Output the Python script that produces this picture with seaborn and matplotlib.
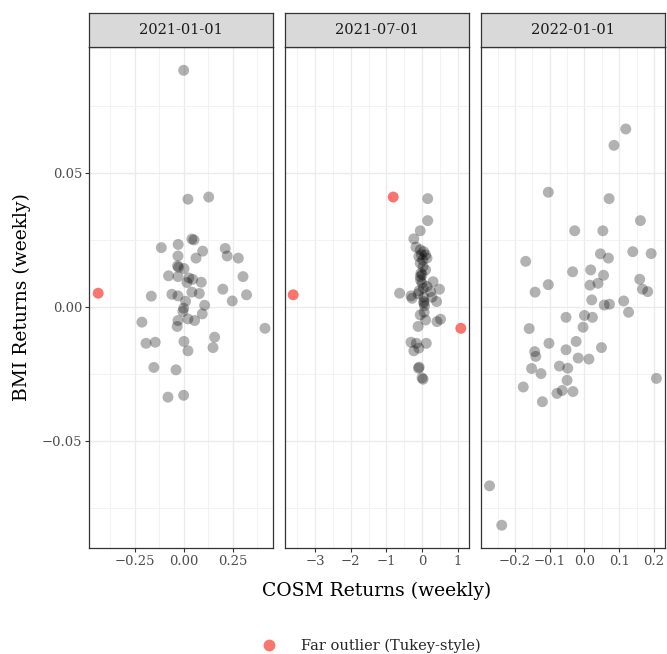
import matplotlib
matplotlib.use("Agg")
import matplotlib.pyplot as plt
from matplotlib.lines import Line2D
from matplotlib.ticker import FixedLocator
import seaborn as sns
import pandas as pd

# ---------------- data ----------------
periods = ["2021-01-01", "2021-07-01", "2022-01-01"]

p1_x = [0.000, 0.022, 0.128, 0.042, 0.053, -0.114, -0.028, 0.097, 0.212, 0.222, 0.279, -0.029,
        0.063, -0.031, -0.026, 0.002, -0.077, -0.029, 0.027, 0.046, 0.090, 0.017, 0.303, 0.200,
        -0.165, -0.060, -0.029, 0.042, 0.080, 0.010, 0.248, 0.321, 0.107, 0.000, -0.004, 0.095,
        -0.029, -0.033, 0.022, 0.056, -0.213, 0.415, 0.158, 0.150, -0.192, -0.145, 0.0015, 0.022,
        -0.152, -0.039, -0.080, 0.000]
p1_y = [0.0883, 0.0402, 0.0410, 0.0253, 0.0250, 0.0221, 0.0233, 0.0208, 0.0218, 0.0190, 0.0182, 0.0190,
        0.0182, 0.0153, 0.0148, 0.0143, 0.0116, 0.0113, 0.0108, 0.0103, 0.0092, 0.0091, 0.0113, 0.0066,
        0.0040, 0.0047, 0.0041, 0.0055, 0.0050, 0.0021, 0.0022, 0.0045, 0.0006, -0.0005, -0.0017, -0.0026,
        -0.0051, -0.0073, -0.0045, -0.0051, -0.0057, -0.0080, -0.0113, -0.0152, -0.0136, -0.0132, -0.0129, -0.0164,
        -0.0226, -0.0235, -0.0337, -0.0330]
p1_out_x = [-0.436]
p1_out_y = [0.0051]

p2_x = [0.16, 0.16, -0.05, -0.23, -0.17, -0.05, 0.05, 0.10, -0.09, 0.14, -0.05, 0.03,
        0.10, -0.03, -0.05, 0.00, 0.31, 0.14, 0.49, 0.24, -0.11, -0.31, -0.63, 0.05,
        0.28, 0.41, 0.05, -0.28, 0.05, 0.07, -0.05, 0.10, -0.11, 0.42, 0.52, -0.31,
        -0.16, 0.12, -0.23, -0.09, -0.10, -0.08, 0.03, 0.00, -0.02, 0.02, 0.00, -0.08,
        0.04, -0.04, 0.06]
p2_y = [0.0404, 0.0322, 0.0284, 0.0254, 0.0223, 0.0213, 0.0206, 0.0194, 0.0188, 0.0182, 0.0163, 0.0150,
        0.0138, 0.0126, 0.0113, 0.0088, 0.0094, 0.0076, 0.0066, 0.0057, 0.0049, 0.0041, 0.0051, 0.0036,
        0.0036, 0.0020, 0.0014, 0.0032, 0.0020, 0.0004, -0.0030, -0.0049, -0.0073, -0.0055, -0.0046, -0.0132,
        -0.0136, -0.0136, -0.0164, -0.0154, -0.0229, -0.0225, -0.0270, -0.0265, 0.0195, 0.0175, 0.0120, 0.0060,
        0.0070, 0.0100, -0.0020]
p2_out_x = [-3.62, -0.81, 1.09]
p2_out_y = [0.0045, 0.0410, -0.0080]

p3_x = [0.119, 0.085, -0.104, 0.071, 0.161, -0.028, 0.053, 0.046, 0.069, 0.139, 0.192, -0.169,
        -0.034, 0.018, 0.055, 0.016, 0.039, 0.159, 0.167, 0.182, -0.104, -0.142, 0.021, 0.057,
        0.072, 0.113, 0.127, -0.053, 0.000, 0.023, -0.004, -0.159, -0.102, -0.024, -0.053, 0.049,
        -0.143, -0.140, -0.018, 0.013, -0.152, -0.125, -0.072, -0.048, -0.050, -0.176, -0.079, -0.064,
        -0.033, -0.121, 0.207, -0.273, -0.238]
p3_y = [0.0664, 0.0603, 0.0428, 0.0404, 0.0322, 0.0284, 0.0284, 0.0198, 0.0182, 0.0206, 0.0199, 0.0170,
        0.0131, 0.0138, 0.0118, 0.0081, 0.0088, 0.0103, 0.0066, 0.0057, 0.0083, 0.0055, 0.0026, 0.0007,
        0.0010, 0.0022, -0.0020, -0.0039, -0.0032, -0.0039, -0.0076, -0.0081, -0.0136, -0.0129, -0.0160, -0.0152,
        -0.0167, -0.0185, -0.0191, -0.0195, -0.0230, -0.0249, -0.0221, -0.0229, -0.0274, -0.0299, -0.0323, -0.0312,
        -0.0316, -0.0354, -0.0267, -0.0668, -0.0815]
p3_out_x = []
p3_out_y = []

x_ticks = [[-0.25, 0.0, 0.25], [-3, -2, -1, 0, 1], [-0.2, -0.1, 0.0, 0.1, 0.2]]
x_tick_labels = [["\u22120.25", "0.00", "0.25"],
                 ["\u22123", "\u22122", "\u22121", "0", "1"],
                 ["\u22120.2", "\u22120.1", "0.0", "0.1", "0.2"]]
y_ticks = [-0.05, 0.0, 0.05]
y_tick_labels = ["\u22120.05", "0.00", "0.05"]
legend_label = "Far outlier (Tukey-style)"
x_title = "COSM Returns (weekly)"
y_title = "BMI Returns (weekly)"

# ---------------- frames ----------------
rows = []
for per, xs, ys, oxs, oys in [(periods[0], p1_x, p1_y, p1_out_x, p1_out_y),
                             (periods[1], p2_x, p2_y, p2_out_x, p2_out_y),
                             (periods[2], p3_x, p3_y, p3_out_x, p3_out_y)]:
    for a, b in zip(xs, ys):
        rows.append(dict(period=per, cosm=a, bmi=b, outlier=False))
    for a, b in zip(oxs, oys):
        rows.append(dict(period=per, cosm=a, bmi=b, outlier=True))
df = pd.DataFrame(rows)

# ---------------- style ----------------
sns.set_theme(style="white")
plt.rcParams["font.family"] = ["DejaVu Serif", "DejaVu Sans"]

W, H = 667, 654
fig = plt.figure(figsize=(W / 100, H / 100), dpi=100)

def fx(px):
    return px / W

def fy(py):
    return 1 - py / H

panel_left = [89, 285, 481]
panel_w = 184
panel_top, panel_bot = 47, 548
strip_top = 13

xlims = [(-0.483, 0.456), (-3.85, 1.32), (-0.2976, 0.2318)]
x_minor = [[-0.375, -0.125, 0.125, 0.375],
           [-3.5, -2.5, -1.5, -0.5, 0.5],
           [-0.25, -0.15, -0.05, 0.05, 0.15]]
ylim = (-0.090, 0.097)
y_minor = [-0.075, -0.025, 0.025, 0.075]

border = "#333333"
grid_c = "#ebebeb"
red = "#F8766D"

for i, per in enumerate(periods):
    L = panel_left[i]
    ax = fig.add_axes([fx(L), fy(panel_bot), panel_w / W, (panel_bot - panel_top) / H])
    sub = df[df.period == per]
    normal = sub[~sub.outlier]
    outl = sub[sub.outlier]
    sns.scatterplot(data=normal, x="cosm", y="bmi", ax=ax, color="black", alpha=0.3,
                    s=62, edgecolor="none", linewidth=0, legend=False, zorder=3)
    if len(outl):
        sns.scatterplot(data=outl, x="cosm", y="bmi", ax=ax, color=red, alpha=1.0,
                        s=62, edgecolor="none", linewidth=0, legend=False, zorder=4)
    ax.set_xlim(*xlims[i])
    ax.set_ylim(*ylim)
    ax.xaxis.set_major_locator(FixedLocator(x_ticks[i]))
    ax.set_xticklabels(x_tick_labels[i])
    ax.xaxis.set_minor_locator(FixedLocator(x_minor[i]))
    ax.yaxis.set_major_locator(FixedLocator(y_ticks))
    ax.yaxis.set_minor_locator(FixedLocator(y_minor))
    ax.grid(True, which="major", color=grid_c, linewidth=1.0, zorder=0)
    ax.grid(True, which="minor", color="#f2f2f2", linewidth=0.7, zorder=0)
    ax.set_axisbelow(True)
    for sp in ax.spines.values():
        sp.set_color(border)
        sp.set_linewidth(0.9)
        sp.set_visible(True)
    ax.tick_params(axis="both", which="major", length=3, width=0.8, color=border,
                   labelsize=9.5, labelcolor="#4d4d4d", pad=2, direction="out",
                   bottom=True, left=(i == 0))
    ax.tick_params(axis="both", which="minor", length=0)
    if i > 0:
        ax.set_yticklabels([])
    else:
        ax.set_yticklabels(y_tick_labels)
    ax.set_xlabel("")
    ax.set_ylabel("")

    # strip
    sax = fig.add_axes([fx(L), fy(panel_top), panel_w / W, (panel_top - strip_top) / H])
    sax.set_facecolor("#d9d9d9")
    sax.set_xticks([])
    sax.set_yticks([])
    for sp in sax.spines.values():
        sp.set_color(border)
        sp.set_linewidth(0.9)
        sp.set_visible(True)
    sax.text(0.5, 0.5, per, ha="center", va="center", fontsize=10.5, color="#1a1a1a",
             transform=sax.transAxes)

# axis titles
fig.text(fx((89 + 665) / 2), fy(591), x_title, ha="center", va="center", fontsize=13.5, color="black")
fig.text(fx(22), fy((panel_top + panel_bot) / 2), y_title, ha="center", va="center",
         rotation=90, fontsize=13.5, color="black")

# legend
handle = Line2D([], [], marker="o", linestyle="none", markersize=8.5,
                markerfacecolor=red, markeredgecolor="none")
fig.legend([handle], [legend_label], loc="center left",
           bbox_to_anchor=(fx(254), fy(646)), frameon=False, fontsize=10.5,
           handletextpad=1.2, borderaxespad=0, borderpad=0)

fig.savefig("out.png", dpi=100)
